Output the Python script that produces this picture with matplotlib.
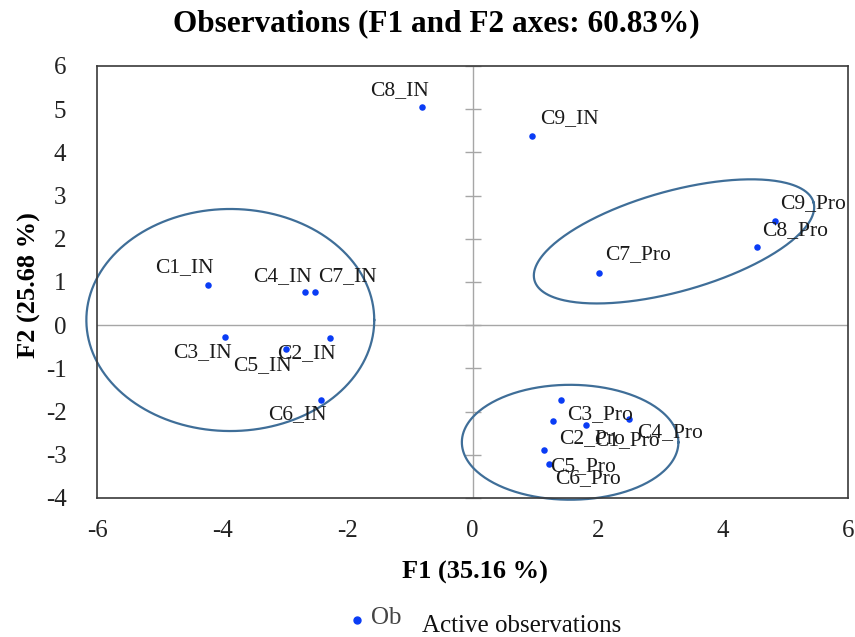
import numpy as np
import matplotlib
matplotlib.use("Agg")
import matplotlib.pyplot as plt

plt.rcParams['font.family'] = ['Liberation Serif', 'DejaVu Serif']
plt.rcParams['axes.unicode_minus'] = False

# ----------------------
# data (F1, F2 coordinates)
# ----------------------
labels = ["C1_IN", "C2_IN", "C3_IN", "C4_IN", "C5_IN", "C6_IN", "C7_IN", "C8_IN", "C9_IN",
          "C1_Pro", "C2_Pro", "C3_Pro", "C4_Pro", "C5_Pro", "C6_Pro", "C7_Pro", "C8_Pro", "C9_Pro"]
f1 = [-4.22, -2.28, -3.95, -2.67, -2.98, -2.42, -2.52, -0.80, 0.95,
      1.82, 1.28, 1.41, 2.50, 1.14, 1.22, 2.02, 4.54, 4.83]
f2 = [0.92, -0.29, -0.27, 0.77, -0.56, -1.72, 0.77, 5.04, 4.39,
      -2.31, -2.22, -1.72, -2.18, -2.90, -3.21, 1.21, 1.81, 2.41]

x_ticks = [-6, -4, -2, 0, 2, 4, 6]
y_ticks = [-4, -3, -2, -1, 0, 1, 2, 3, 4, 5, 6]

# group ellipses: centre and the two semi-axis vectors, in data units
ell_centres = [(-3.87, 0.12), (3.22, 1.94), (1.56, -2.71)]
ell_vec_a = [(2.30, 0.0), (2.23, 0.90), (1.73, 0.0)]
ell_vec_b = [(0.0, 2.57), (-0.21, 1.12), (0.0, 1.33)]

# label placement (pixels, y up): alignment, dx, dy of cap centre
label_pos = {
    "C1_IN": ("right", 5, 19), "C4_IN": ("right", 6, 17), "C7_IN": ("left", 3, 17),
    "C3_IN": ("right", 6, -14), "C2_IN": ("right", 6, -14), "C5_IN": ("right", 6, -15),
    "C6_IN": ("right", 6, -14), "C8_IN": ("right", 6, 18), "C9_IN": ("left", 8, 18),
    "C7_Pro": ("left", 6, 20), "C8_Pro": ("left", 5, 18), "C9_Pro": ("left", 5, 19),
    "C3_Pro": ("left", 6, -14), "C4_Pro": ("left", 8, -12), "C2_Pro": ("left", 7, -16),
    "C1_Pro": ("left", 8, -14), "C5_Pro": ("left", 6, -15), "C6_Pro": ("left", 6, -13),
}

point_col = "#0A3CF5"
ell_col = "#3F6E98"
frame_col = "#3A3A3A"

fig = plt.figure(figsize=(8.55, 6.37), dpi=100)
ax = fig.add_axes([97 / 855, 1 - 498 / 637, (848 - 97) / 855, (498 - 66) / 637])

ax.set_xlim(-6, 6)
ax.set_ylim(-4, 6)

# zero lines with tick marks on the vertical one
ax.axhline(0, color="#A6A6A6", lw=1.0, zorder=1)
ax.axvline(0, color="#A6A6A6", lw=1.0, zorder=1)
ax.plot([0] * len(y_ticks), y_ticks, ls="none", marker="_", ms=12, mew=1.0,
        color="#A6A6A6", zorder=1, clip_on=False)

# ellipses (not clipped, they run past the frame in the original)
t = np.linspace(0, 2 * np.pi, 300)
for (cx, cy), (ax1, ay1), (bx1, by1) in zip(ell_centres, ell_vec_a, ell_vec_b):
    ax.plot(cx + ax1 * np.cos(t) + bx1 * np.sin(t),
            cy + ay1 * np.cos(t) + by1 * np.sin(t),
            color=ell_col, lw=1.6, zorder=2, clip_on=False)

ax.scatter(f1, f2, s=22, color=point_col, zorder=3, linewidths=0)

for name, x, y in zip(labels, f1, f2):
    ha, dx, dy = label_pos[name]
    ax.annotate(name, (x, y), xytext=(dx, dy - 6), textcoords="offset pixels",
                ha=ha, va="baseline", fontsize=15.5, color="#1A1A1A", zorder=4)

ax.set_xticks(x_ticks)
ax.set_yticks(y_ticks)
ax.tick_params(length=0, labelsize=18, colors="#222222")
ax.tick_params(axis="y", pad=22)
ax.tick_params(axis="x", pad=16)
for sp in ax.spines.values():
    sp.set_color(frame_col)
    sp.set_linewidth(1.2)

fig.text(0.51, 1 - 24 / 637, "Observations (F1 and F2 axes: 60.83%)",
         ha="center", va="center", fontsize=22.5, fontweight="bold")
fig.text(475 / 855, 1 - 572 / 637, "F1 (35.16 %)", ha="center", va="center",
         fontsize=19, fontweight="bold")
fig.text(29 / 855, 1 - 285 / 637, "F2 (25.68 %)", ha="center", va="center",
         rotation=90, fontsize=19, fontweight="bold")

# the clipped legend at the bottom
fig.lines.append(plt.Line2D([357 / 855], [1 - 620 / 637], transform=fig.transFigure,
                            marker="o", ms=5, color=point_col, ls="none"))
fig.text(371 / 855, 1 - 618 / 637, "Ob", ha="left", va="center", fontsize=18,
         color="#444444")
fig.text(422 / 855, 1 - 626 / 637, "Active observations", ha="left", va="center",
         fontsize=18, color="#111111")

plt.savefig("out.png", dpi=100)
